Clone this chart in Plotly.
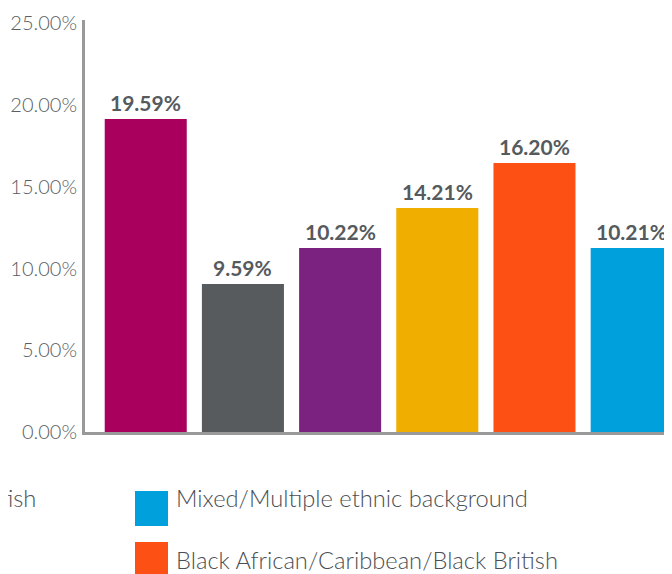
import plotly.graph_objects as go

categories = ["Cat A", "Cat B", "Cat C", "Cat D", "Black African/Caribbean/Black British",
              "Mixed/Multiple ethnic background"]
bar_heights = [19.14, 9.06, 11.25, 13.7, 16.46, 11.25]
value_labels = ["19.59%", "9.59%", "10.22%", "14.21%", "16.20%", "10.21%"]
colors = ["#A8005C", "#575B5E", "#7B2280", "#EFAE00", "#FC5014", "#00A0DC"]
y_ticks = [0, 5, 10, 15, 20, 25]
y_tick_labels = ["0.00%", "5.00%", "10.00%", "15.00%", "20.00%", "25.00%"]

legend_texts = ["White British", "Mixed/Multiple ethnic background",
                "Black African/Caribbean/Black British"]
legend_colors = ["#A8005C", "#00A0DC", "#FC5014"]

FONT = "Lato"
# page body has an 8px margin, so the figure is drawn 8px in from the window edge
W, H = 664, 566
ml, mr, mt, mb = 77, 0, 12, 142
PW, PH = W - ml - mr, H - mt - mb


def px(x):
    return (x - ml) / PW


def py(y):
    return 1 - (y - mt) / PH


fig = go.Figure()
fig.add_trace(go.Bar(
    x=list(range(len(categories))), y=bar_heights,
    marker=dict(color=colors, line=dict(width=0)),
    hoverinfo="skip",
))

annotations = []
for i, (h, lab) in enumerate(zip(bar_heights, value_labels)):
    annotations.append(dict(x=i, y=h, xref="x", yref="y", text=lab, showarrow=False,
                            xanchor="center", yanchor="bottom", yshift=2,
                            font=dict(family=FONT, size=21, color="#555a5e", weight="bold")))

shapes = []
# legend (reference is cropped: left column mostly off-canvas)
sq_x0, sq_x1 = 127, 160
rows = [(483, 518, 490), (534, 569, 552)]
for (txt, col), (y0, y1, yc) in zip(zip(legend_texts[1:], legend_colors[1:]), rows):
    shapes.append(dict(type="rect", xref="paper", yref="paper",
                       x0=px(sq_x0), x1=px(sq_x1), y0=py(y1), y1=py(y0),
                       fillcolor=col, line=dict(width=0), layer="above"))
    annotations.append(dict(xref="paper", yref="paper", x=px(166), y=py(yc),
                            xanchor="left", yanchor="middle", showarrow=False,
                            text=txt, font=dict(family=FONT, size=23.7, color="#4a4f53", weight=300)))
annotations.append(dict(xref="paper", yref="paper", x=px(30), y=py(490),
                        xanchor="right", yanchor="middle", showarrow=False,
                        text=legend_texts[0],
                        font=dict(family=FONT, size=23.7, color="#4a4f53", weight=300)))

fig.update_layout(
    width=W, height=H,
    margin=dict(l=ml, r=mr, t=mt, b=mb, pad=0),
    paper_bgcolor="white", plot_bgcolor="white",
    showlegend=False,
    bargap=0.156,
    xaxis=dict(range=[-0.625, 5.415], showticklabels=False, ticks="", showgrid=False,
               zeroline=False, showline=True, linecolor="#999999", linewidth=3,
               fixedrange=True),
    yaxis=dict(range=[0, 25.2], tickvals=y_ticks, ticktext=y_tick_labels,
               showgrid=False, zeroline=False, showline=True, linecolor="#999999",
               linewidth=3, ticks="", ticklabelstandoff=1,
               tickfont=dict(family=FONT, size=20, color="#5a5e62", weight=300)),
    shapes=shapes, annotations=annotations,
)

fig.write_html("out.html")
